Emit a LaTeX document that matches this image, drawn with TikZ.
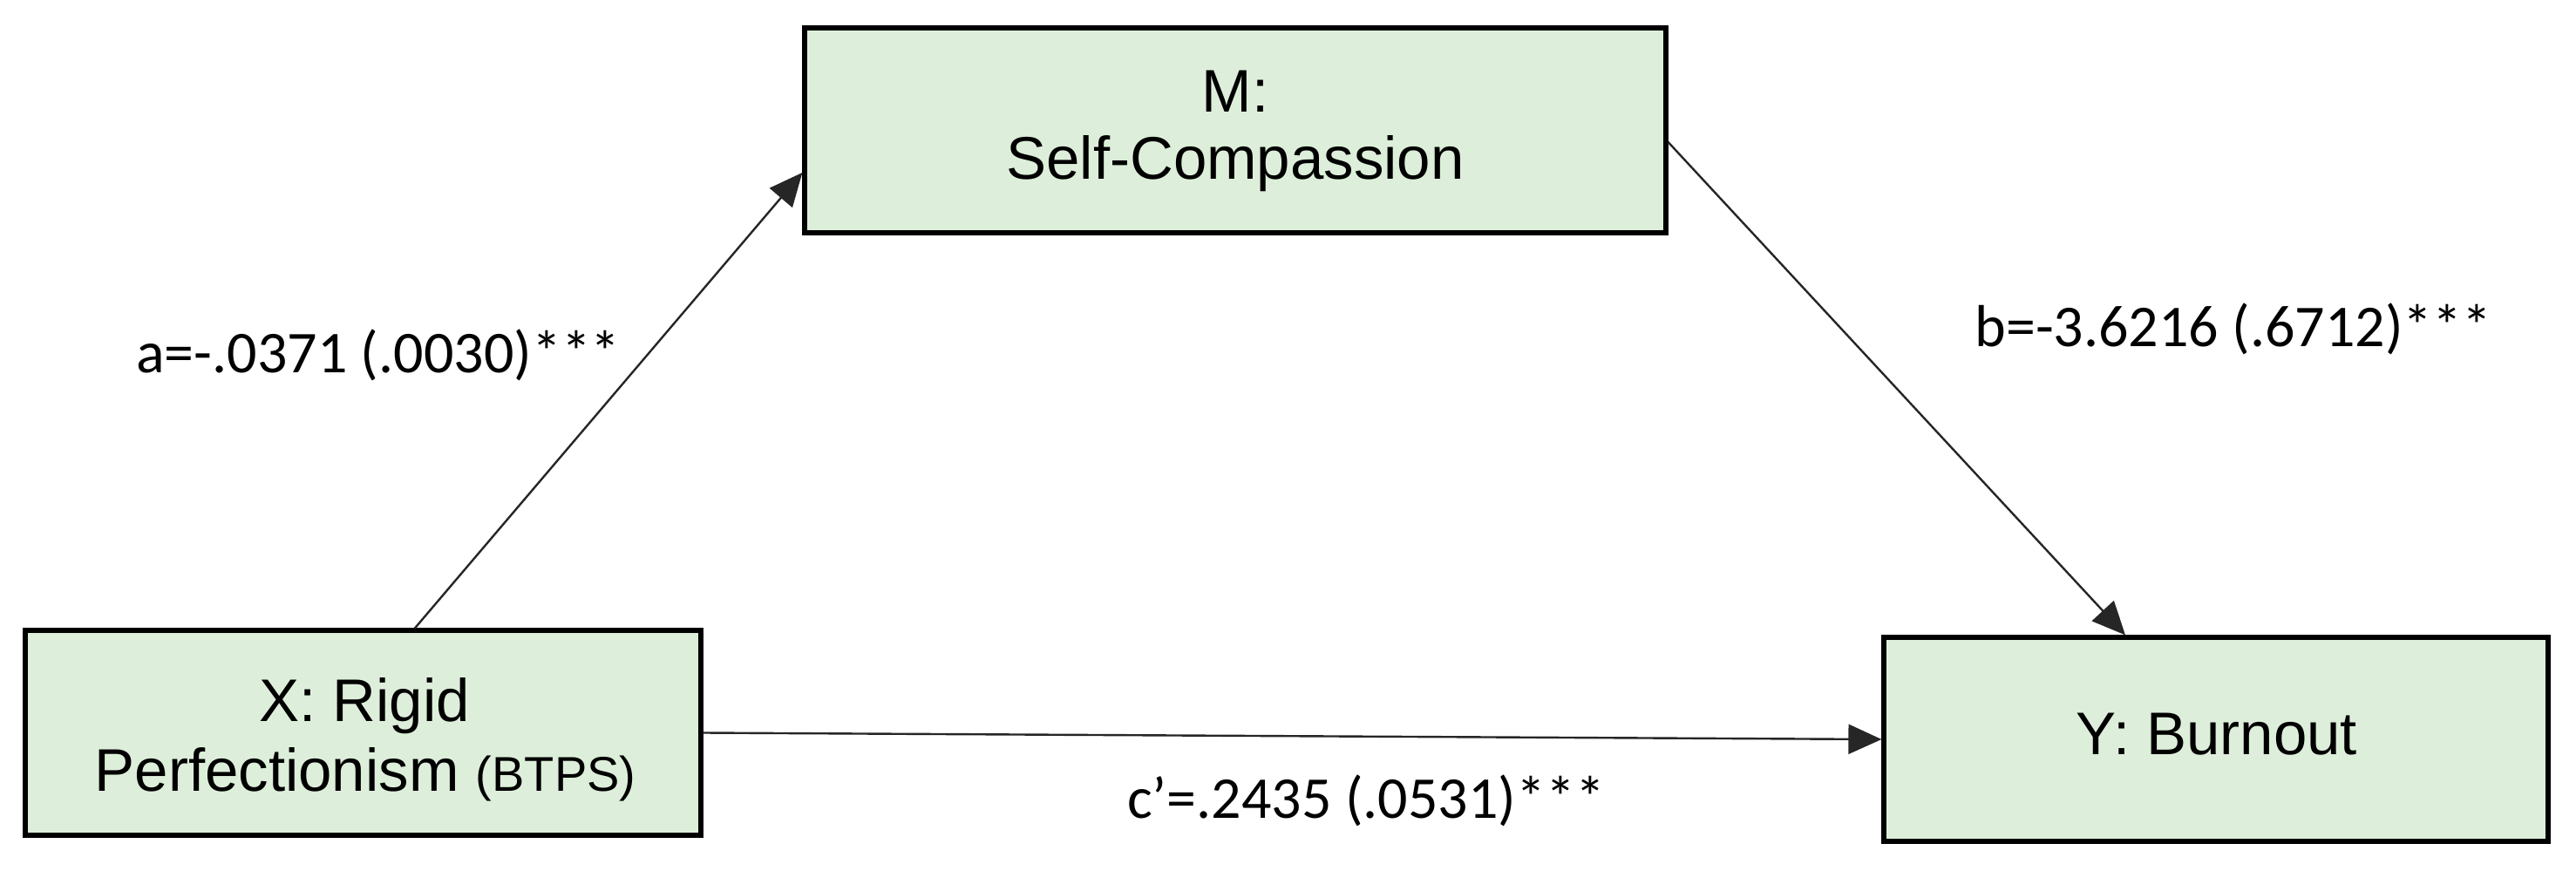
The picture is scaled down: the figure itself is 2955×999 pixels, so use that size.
\documentclass[tikz,border=0pt]{standalone}
\usepackage{fontspec}
\setmainfont{Liberation Sans}
\newfontfamily\labfont{Carlito}
\usetikzlibrary{arrows.meta}
\definecolor{boxfill}{RGB}{221,239,218}
\tikzset{
  varbox/.style={draw=black, fill=boxfill, line width=2.6pt, rectangle, inner sep=0pt},
  boxtext/.style={anchor=base, inner sep=0pt, font=\fontsize{34.5}{40}\selectfont},
  coef/.style={anchor=base, inner sep=0pt, font=\labfont\fontsize{34}{38}\selectfont},
  path/.style={line width=1.2pt, draw=black!85, -{Triangle[length=19pt,width=17pt]}}
}
\begin{document}
\begin{tikzpicture}[x=0.5pt,y=-0.5pt]
\useasboundingbox (0,0) rectangle (2955,999);
% boxes
\node[varbox, minimum width=387.5pt, minimum height=117.5pt] (X) at (416.5,840.5) {};
\node[varbox, minimum width=494pt, minimum height=117.5pt] (M) at (1417,149.5) {};
\node[varbox, minimum width=381pt, minimum height=117pt] (Y) at (2542,848) {};
% box texts
\node[boxtext] (m1) at (1417,129) {M:};
\node[boxtext] (m2) at (1417,206) {Self-Compassion};
\node[boxtext] (x1) at (418,827) {X: Rigid};
\node[boxtext] (x2) at (419,907) {Perfectionism {\fontsize{28}{30}\selectfont(BTPS)}};
\node[boxtext] (y1) at (2543,865) {Y: Burnout};
% connectors
\draw[path] ([xshift=29.75pt]X.north) -- ([yshift=-24.25pt]M.west);
\draw[path] ([yshift=-6.75pt]M.east) -- ([xshift=-52pt]Y.north);
\draw[path] (X.east) -- (Y.west);
% coefficient labels
\node[coef] (la) at (434,428) {a=-.0371 (.0030)***};
\node[coef] (lb) at (2562,398) {b=-3.6216 (.6712)***};
\node[coef] (lc) at (1567,938) {c’=.2435 (.0531)***};
\end{tikzpicture}
\end{document}
